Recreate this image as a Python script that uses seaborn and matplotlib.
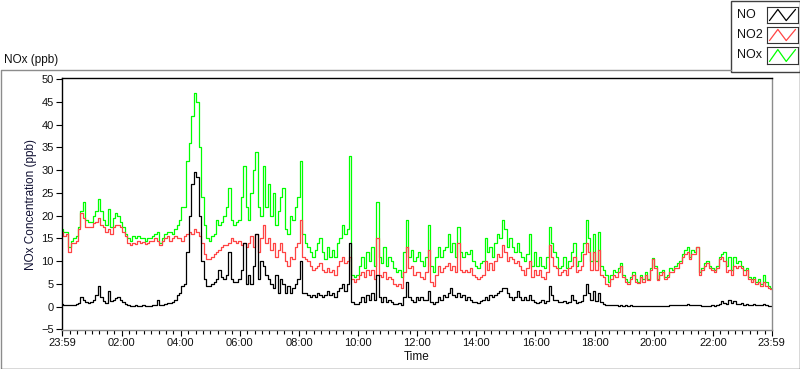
import numpy as np
import pandas as pd
import matplotlib
matplotlib.use("Agg")
import matplotlib.pyplot as plt
from matplotlib.patches import Rectangle
import seaborn as sns

# minutes after 23:59, one reading every 5 minutes
minutes = np.arange(0, 1441, 5)

no = [
    0.5, 0.4, 0.3, 0.4, 0.3, 0.3, 0.5, 0.8, 2, 1.5, 1.0, 0.8,
    1.0, 1.5, 2.5, 4.5, 2.0, 1.2, 0.8, 3.4, 1.2, 1.5, 1.8, 2.0,
    1.5, 1.0, 0.6, 0.3, 0.2, 0.2, 0.3, 0.1, 0.2, 0.3, 0.2, 0.2,
    0.2, 0.3, 0.4, 1.5, 0.3, 0.4, 0.5, 0.8, 0.8, 1.0, 1.5, 2.5,
    3.0, 4.5, 5, 12, 20, 27, 29.5, 28.5, 20, 10, 6, 4.5,
    4.5, 5, 5.5, 6, 8, 6.5, 6, 7, 12, 6, 5.5, 5.5,
    6, 8, 14, 5, 7, 5, 9, 16, 6, 10, 9, 7,
    6, 5, 4, 7, 3, 6, 5, 3, 4.5, 3, 4, 5,
    6, 10, 3, 3, 2.5, 2, 2.5, 2, 3, 2.5, 2, 2.5,
    3.5, 2.5, 3, 2, 3.5, 4, 5, 3.5, 5, 14, 1, 0.5,
    0.5, 1, 2, 1, 2.5, 1.5, 3, 1.5, 7, 2, 1, 2,
    1, 1.5, 1, 0.5, 0.5, 0.8, 0.4, 2, 5.5, 2, 1.5, 1,
    2, 1.5, 2, 1.5, 1.5, 3.5, 1, 0.5, 1, 2, 1.5, 2.5,
    2, 3, 4, 2.5, 2, 3, 2, 2.5, 1.5, 2, 1.5, 1,
    1, 0.8, 1.2, 1.5, 2, 1.5, 2.5, 2, 2.5, 3, 3.5, 4,
    4, 3, 2, 1.5, 2, 3.5, 2, 1.5, 2, 1.5, 2.5, 1.5,
    1, 0.8, 1, 1.5, 0.8, 1.2, 4.5, 2.5, 1.5, 1.5, 1, 1,
    1.2, 0.8, 1, 2.5, 1.5, 0.8, 1, 1.2, 2.5, 5, 3, 1.5,
    3.5, 1.2, 3, 1, 0.6, 0.4, 0.3, 0.3, 0.3, 0.3, 0.2, 0.3,
    0.2, 0.3, 0.2, 0.3, 0.2, 0.1, 0.1, 0.1, 0.2, 0.1, 0.1, 0.1,
    0.1, 0.1, 0.1, 0.2, 0.1, 0.1, 0.1, 0.4, 0.3, 0.4, 0.3, 0.3,
    0.4, 0.4, 0.5, 0.4, 0.3, 0.3, 0.4, 0.3, 0.2, 0.2, 0.2, 0.2,
    0.3, 0.2, 0.3, 0.5, 1.2, 0.8, 0.6, 1.5, 0.8, 1.2, 0.6, 0.5,
    0.8, 0.4, 0.5, 0.3, 0.4, 0.5, 0.3, 0.4, 0.3, 0.5, 0.3, 0.2,
    0.2,
]

no2 = [
    16.5, 15.5, 16, 12, 14, 14, 14.5, 17, 20.5, 19.5, 17.5, 17.5,
    17.5, 18.4, 18.5, 19.5, 18, 17.5, 16.5, 17, 16, 17.5, 18, 18,
    17.5, 16.5, 15.5, 14, 13.5, 14, 13.8, 14.5, 14, 14.2, 13.8, 14,
    14.5, 14.5, 15, 14.5, 13.5, 14.5, 15, 15.5, 14.5, 15, 15.5, 15,
    15, 14.5, 15.5, 16, 16.5, 16, 17, 16.5, 15.5, 14, 11.5, 10.5,
    10.5, 11, 11.5, 12, 12.5, 13, 13.5, 13.5, 14, 15, 14.5, 14,
    14.5, 13.5, 14, 13, 14, 15.5, 13, 16, 12, 15, 18, 14,
    15, 12.5, 14, 11, 12.5, 14, 12, 10, 9, 11, 10.5, 13,
    14, 19, 11, 10.5, 10, 9, 8, 8.5, 9, 9.5, 8, 7.5,
    8.5, 7.5, 8, 7, 9, 10, 11, 9.5, 10, 11, 6, 5.5,
    6, 7, 7.5, 6.5, 8, 7, 8, 6, 15, 7, 6.5, 7.5,
    6, 6.5, 6, 5, 4.5, 5, 4, 7.5, 13, 8.5, 9, 7,
    7.5, 7.5, 6.5, 6, 7.5, 12.5, 5.5, 4.5, 7, 9, 7.5, 8.5,
    9, 9.5, 8, 9, 7.5, 14, 8, 7.5, 8, 7.5, 8.5, 7,
    6.5, 6, 6.5, 7, 10, 8, 9.5, 8, 10, 11.5, 11, 13.5,
    12, 10, 11, 10.5, 9.5, 10, 9, 8, 7, 8.5, 10, 6.5,
    8, 7, 8, 6.5, 6, 7.5, 13.5, 11, 9, 8.5, 7, 7.5,
    8, 7, 8.5, 9, 11, 7.5, 8, 9, 11.5, 14, 12, 8,
    12, 8, 12.5, 7, 6.5, 5, 4.5, 6, 7, 6.5, 7.5, 9,
    6.5, 5.5, 5, 6, 7, 5.5, 5.2, 6.5, 5.5, 7, 5.8, 8,
    10.5, 8.5, 5.8, 7, 7.5, 6, 6.5, 7.5, 7.5, 8.5, 8.5, 9.5,
    11, 11.5, 12, 10.5, 11.5, 11.5, 13, 7, 8, 9, 9.5, 8.5,
    8, 7.5, 8.5, 10.5, 11, 10, 7.5, 8, 7, 9, 8.5, 9,
    8.5, 7, 8, 6, 5.5, 6, 5, 5.5, 4.5, 5.5, 4.5, 4,
    3.8,
]

nox = [
    17, 16.5, 16.5, 13, 14.5, 15, 15.5, 17.5, 21, 23, 19, 18.5,
    18.5, 20, 21, 23.7, 21, 19, 18, 21.5, 17.5, 19.5, 20.5, 20,
    18.5, 17.5, 16, 15, 14.5, 15.5, 15, 15.5, 15, 15, 14.5, 15,
    15, 15.5, 16, 16.5, 14, 15, 16, 16.5, 16.5, 16, 17, 18,
    19, 22, 22, 32, 36, 42, 47, 45, 35, 24, 18, 15,
    14.5, 15.5, 16, 19, 18, 18.5, 20, 22, 26, 19, 18, 18.5,
    19, 24, 31, 22, 19, 25, 30, 34, 22, 20, 31, 22,
    27, 20, 25, 18, 21, 24, 26, 17, 16, 20, 19, 22,
    24, 32, 16, 14, 13, 12, 11, 12.5, 14, 15, 12, 10.5,
    13, 11, 12.5, 11, 14, 15, 18, 16, 17, 33, 7, 6.5,
    7, 9, 11, 8.5, 12, 10, 13, 9, 23, 11, 9.5, 13,
    9, 11, 10, 8.5, 7.5, 8, 6.5, 12, 19, 11, 12.5, 10,
    11, 12, 10, 9, 11, 18, 9, 7.5, 11, 13, 11, 12.5,
    13, 16, 12, 14, 11, 17.5, 12, 11, 12, 11.5, 12.5, 10,
    9, 8.5, 9.5, 10, 15, 12, 13, 11, 14, 16, 15, 19,
    17, 13, 15, 13, 12, 14, 12, 11, 10, 11.5, 16, 9,
    12, 9, 11, 9, 8.5, 11, 17.5, 14, 12, 11, 8.5, 9,
    11, 8.5, 10, 12, 14, 9, 10, 12, 14, 19, 15, 10,
    16, 10, 16.5, 9, 8, 7, 5.5, 7, 8, 7.5, 8.5, 9.5,
    7, 6, 5.5, 6.5, 7.5, 6, 5.5, 7, 6, 7.5, 6, 8.5,
    10.7, 9, 6, 7.5, 8, 6.5, 7, 8.5, 8, 9, 9.5, 10,
    11.5, 12.5, 13, 11, 12.5, 12, 13.2, 7.5, 8.5, 9.5, 10, 9,
    8.5, 8, 9, 11, 11.5, 12, 9, 11, 8, 11, 9.5, 10,
    9, 8, 8.5, 6.5, 6, 6.5, 5.5, 6, 5, 7, 5.5, 4.5,
    4,
]

gas_order = ["NOx", "NO2", "NO"]   # drawing order, black on top
legend_order = ["NO", "NO2", "NOx"]
gas_colors = {"NO": "#000000", "NO2": "#FF4444", "NOx": "#00FF00"}

major_ticks = [0, 121, 241, 361, 481, 601, 721, 841, 961, 1081, 1201, 1321, 1440]
major_labels = ["23:59", "02:00", "04:00", "06:00", "08:00", "10:00", "12:00",
                "14:00", "16:00", "18:00", "20:00", "22:00", "23:59"]
y_ticks = [-5, 0, 5, 10, 15, 20, 25, 30, 35, 40, 45, 50]

df = pd.DataFrame({"minute": minutes, "NO": no, "NO2": no2, "NOx": nox})
long_df = df.melt(id_vars="minute", var_name="gas", value_name="ppb")

sns.set_style("white")
plt.rcParams["font.family"] = ["Liberation Sans", "DejaVu Sans"]

W, H = 800, 369
fig = plt.figure(figsize=(W / 100, H / 100), dpi=100)
fig.patch.set_facecolor("white")

# outer panel frame
fig.add_artist(plt.Line2D([0.5 / W, 0.5 / W, 731 / W], [0.5 / H, 1 - 69.5 / H, 1 - 69.5 / H],
                          transform=fig.transFigure, color="#8c8c8c", lw=1))
fig.add_artist(plt.Line2D([0.5 / W, 799.5 / W, 799.5 / W], [0.5 / H, 0.5 / H, 1 - 69.5 / H],
                          transform=fig.transFigure, color="#404040", lw=1))
fig.text(4 / W, 1 - 60 / H, "NOx (ppb)", fontsize=8.5, va="center", ha="left", color="#111111")

ax = fig.add_axes([62 / W, 1 - 330 / H, 710 / W, 252 / H])
sns.lineplot(data=long_df, x="minute", y="ppb", hue="gas", hue_order=gas_order,
             palette=gas_colors, linewidth=0.9, estimator=None, legend=False, ax=ax,
             drawstyle="steps-mid")

ax.set_xlim(0, 1441)
ax.set_ylim(-5.15, 50.25)
ax.set_xticks(major_ticks)
ax.set_xticklabels(major_labels)
ax.set_xticks([m for m in range(1, 1440, 15) if m not in major_ticks], minor=True)
ax.set_yticks(y_ticks)
ax.tick_params(axis="both", which="major", direction="out", length=4, width=0.8,
               color="black", labelsize=8, pad=2, bottom=True, left=True, labelcolor="#111111")
ax.tick_params(axis="x", which="minor", direction="out", length=3, width=0.8,
               color="black", bottom=True)
ax.set_xlabel("Time", fontsize=8.5, labelpad=2, color="#111111")
ax.set_ylabel("NOx Concentration (ppb)", fontsize=8.5, labelpad=3, color="#111133")

for side in ["top", "left"]:
    ax.spines[side].set_color("black")
    ax.spines[side].set_linewidth(1)
for side in ["right", "bottom"]:
    ax.spines[side].set_color("#8c8c8c")
    ax.spines[side].set_linewidth(1)

# legend panel in the top right corner
legend_box = Rectangle((731 / W, 1 - 72 / H), 68.5 / W, 71.5 / H, transform=fig.transFigure,
                       facecolor="white", edgecolor="#404040", lw=1, zorder=1)
fig.add_artist(legend_box)
legend_rows = [(7, 23), (27, 43), (47, 64)]
for name, (top, bottom) in zip(legend_order, legend_rows):
    fig.text(737 / W, 1 - (top + bottom) / 2 / H, name, fontsize=9, va="center",
             ha="left", color="#111111", zorder=3)
    icon = fig.add_axes([767 / W, 1 - bottom / H, 31 / W, (bottom - top) / H])
    icon.set_zorder(5)
    icon.plot([0.08, 0.35, 0.62, 0.92], [0.15, 0.85, 0.15, 0.85],
              color=gas_colors[name], lw=0.9)
    icon.set_xlim(0, 1)
    icon.set_ylim(0, 1)
    icon.set_xticks([])
    icon.set_yticks([])
    for side in icon.spines:
        icon.spines[side].set_color("#333333")
        icon.spines[side].set_linewidth(0.8)

fig.savefig("out.png", dpi=100)
